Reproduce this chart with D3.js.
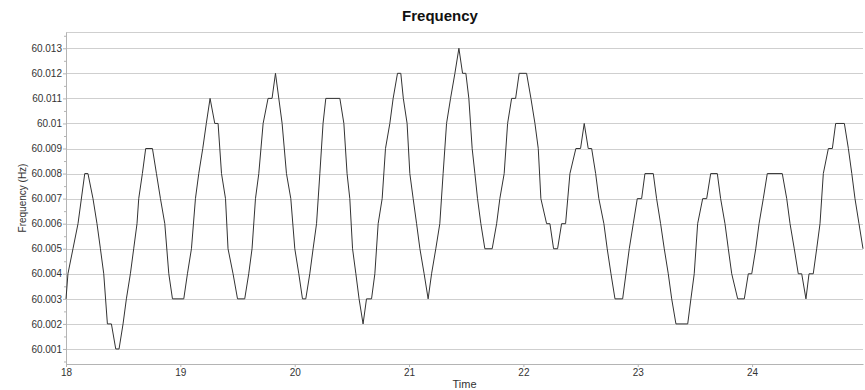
<!DOCTYPE html>
<html>
<head>
<meta charset="utf-8">
<script src="https://cdn.jsdelivr.net/npm/d3@7"></script>
<style>
  body { margin: 0; background: #fff; }
  svg text { font-family: "Liberation Sans", Arial, sans-serif; }
  .axis path, .axis line { stroke: #b4b4b4; }
  .axis text { fill: #333; font-size: 10px; }
</style>
</head>
<body>
<div id="chart"></div>
<script>
// time (h) and frequency (Hz)
const times = [
  18.000, 18.017, 18.061, 18.105, 18.164, 18.192, 18.236, 18.271, 18.301, 18.330,
  18.362, 18.397, 18.435, 18.464, 18.499, 18.528, 18.563, 18.592, 18.621, 18.636,
  18.668, 18.697, 18.756, 18.791, 18.826, 18.864, 18.899, 18.931, 19.030, 19.062,
  19.097, 19.132, 19.161, 19.196, 19.227, 19.260, 19.301, 19.330, 19.360, 19.395,
  19.417, 19.461, 19.500, 19.563, 19.598, 19.627, 19.657, 19.686, 19.724, 19.767,
  19.802, 19.832, 19.890, 19.928, 19.966, 20.001, 20.036, 20.068, 20.097, 20.132,
  20.161, 20.191, 20.220, 20.248, 20.272, 20.395, 20.430, 20.458, 20.482, 20.506,
  20.535, 20.563, 20.598, 20.628, 20.672, 20.701, 20.730, 20.765, 20.794, 20.832,
  20.861, 20.899, 20.928, 20.950, 20.983, 21.007, 21.036, 21.066, 21.095, 21.132,
  21.167, 21.197, 21.234, 21.269, 21.298, 21.328, 21.363, 21.401, 21.436, 21.468,
  21.497, 21.523, 21.552, 21.576, 21.599, 21.628, 21.663, 21.727, 21.766, 21.794,
  21.832, 21.862, 21.897, 21.932, 21.963, 22.028, 22.066, 22.101, 22.130, 22.153,
  22.203, 22.232, 22.264, 22.299, 22.334, 22.369, 22.407, 22.459, 22.500, 22.532,
  22.567, 22.597, 22.632, 22.660, 22.704, 22.733, 22.766, 22.801, 22.868, 22.897,
  22.926, 22.961, 22.996, 23.034, 23.063, 23.136, 23.165, 23.200, 23.232, 23.267,
  23.297, 23.334, 23.437, 23.465, 23.494, 23.524, 23.568, 23.603, 23.638, 23.696,
  23.725, 23.763, 23.792, 23.822, 23.874, 23.932, 23.967, 23.997, 24.032, 24.061,
  24.098, 24.133, 24.264, 24.303, 24.332, 24.369, 24.404, 24.434, 24.471, 24.498,
  24.535, 24.565, 24.594, 24.623, 24.667, 24.702, 24.731, 24.807, 24.842, 24.872,
  24.900, 24.935, 24.970
];
const freq = [
  60.003, 60.004, 60.005, 60.006, 60.008, 60.008, 60.007, 60.006, 60.005, 60.004,
  60.002, 60.002, 60.001, 60.001, 60.002, 60.003, 60.004, 60.005, 60.006, 60.007,
  60.008, 60.009, 60.009, 60.008, 60.007, 60.006, 60.004, 60.003, 60.003, 60.004,
  60.005, 60.007, 60.008, 60.009, 60.010, 60.011, 60.010, 60.010, 60.008, 60.007,
  60.005, 60.004, 60.003, 60.003, 60.004, 60.005, 60.007, 60.008, 60.010, 60.011,
  60.011, 60.012, 60.010, 60.008, 60.007, 60.005, 60.004, 60.003, 60.003, 60.004,
  60.005, 60.006, 60.008, 60.010, 60.011, 60.011, 60.010, 60.008, 60.007, 60.005,
  60.004, 60.003, 60.002, 60.003, 60.003, 60.004, 60.006, 60.007, 60.009, 60.010,
  60.011, 60.012, 60.012, 60.011, 60.010, 60.008, 60.007, 60.006, 60.005, 60.004,
  60.003, 60.004, 60.005, 60.006, 60.008, 60.010, 60.011, 60.012, 60.013, 60.012,
  60.012, 60.011, 60.009, 60.008, 60.007, 60.006, 60.005, 60.005, 60.006, 60.007,
  60.008, 60.010, 60.011, 60.011, 60.012, 60.012, 60.011, 60.010, 60.009, 60.007,
  60.006, 60.006, 60.005, 60.005, 60.006, 60.006, 60.008, 60.009, 60.009, 60.010,
  60.009, 60.009, 60.008, 60.007, 60.006, 60.005, 60.004, 60.003, 60.003, 60.004,
  60.005, 60.006, 60.007, 60.007, 60.008, 60.008, 60.007, 60.006, 60.005, 60.004,
  60.003, 60.002, 60.002, 60.003, 60.004, 60.006, 60.007, 60.007, 60.008, 60.008,
  60.007, 60.006, 60.005, 60.004, 60.003, 60.003, 60.004, 60.004, 60.005, 60.006,
  60.007, 60.008, 60.008, 60.007, 60.006, 60.005, 60.004, 60.004, 60.003, 60.004,
  60.004, 60.005, 60.006, 60.008, 60.009, 60.009, 60.010, 60.010, 60.009, 60.008,
  60.007, 60.006, 60.005
];
const xTicks = [18, 19, 20, 21, 22, 23, 24];
const yTicks = [60.001, 60.002, 60.003, 60.004, 60.005, 60.006, 60.007,
  60.008, 60.009, 60.010, 60.011, 60.012, 60.013];
const yMinor = [60.0005, 60.0015, 60.0025, 60.0035, 60.0045, 60.0055, 60.0065,
  60.0075, 60.0085, 60.0095, 60.0105, 60.0115, 60.0125, 60.0135];

const width = 865;
const height = 390;
const margin = { top: 32, right: 2, bottom: 26, left: 66 };

const svg = d3.select('#chart')
  .append('svg')
  .attr('width', width)
  .attr('height', height);

const w = width - margin.left - margin.right;
const h = height - margin.top - margin.bottom;

const x = d3.scaleLinear().domain([18, 24.97]).range([0, w]);
const y = d3.scaleLinear().domain([60.0004, 60.01365]).range([h, 0]);

const g = svg.append('g')
  .attr('transform', 'translate(' + margin.left + ',' + margin.top + ')');

// horizontal grid + top border
g.append('g')
  .selectAll('line')
  .data(yTicks)
  .enter().append('line')
  .attr('x1', 0)
  .attr('x2', w)
  .attr('y1', d => Math.round(y(d)) + 0.5)
  .attr('y2', d => Math.round(y(d)) + 0.5)
  .attr('stroke', '#cfcfcf');

g.append('line')
  .attr('x1', 0).attr('x2', w)
  .attr('y1', 0.5).attr('y2', 0.5)
  .attr('stroke', '#cfcfcf');

// minor y ticks
g.append('g')
  .attr('class', 'y axis minor')
  .call(d3.axisLeft(y).tickValues(yMinor).tickSize(2).tickFormat(''))
  .call(a => a.select('.domain').remove());

g.append('g')
  .attr('class', 'y axis')
  .call(d3.axisLeft(y).tickValues(yTicks).tickFormat(d3.format('.3~f'))
    .tickSizeInner(3).tickSizeOuter(0).tickPadding(1));

g.append('g')
  .attr('class', 'x axis')
  .attr('transform', 'translate(0,' + h + ')')
  .call(d3.axisBottom(x).tickValues(xTicks).tickFormat(d3.format('d'))
    .tickSizeInner(3).tickSizeOuter(0).tickPadding(2));

const line = d3.line()
  .x((d, i) => x(times[i]))
  .y(d => y(d));

g.append('path')
  .datum(freq)
  .attr('fill', 'none')
  .attr('stroke', '#333')
  .attr('stroke-width', 1)
  .attr('d', line);

svg.append('text')
  .attr('x', 440)
  .attr('y', 21)
  .attr('text-anchor', 'middle')
  .style('font-size', '15px')
  .style('font-weight', 'bold')
  .style('fill', '#111')
  .text('Frequency');

svg.append('text')
  .attr('x', margin.left + w / 2)
  .attr('y', 388)
  .attr('text-anchor', 'middle')
  .style('font-size', '11px')
  .style('fill', '#333')
  .text('Time');

svg.append('text')
  .attr('transform', 'rotate(-90)')
  .attr('x', -(margin.top + h / 2))
  .attr('y', 26)
  .attr('text-anchor', 'middle')
  .style('font-size', '10px')
  .style('fill', '#333')
  .text('Frequency (Hz)');
</script>
</body>
</html>
